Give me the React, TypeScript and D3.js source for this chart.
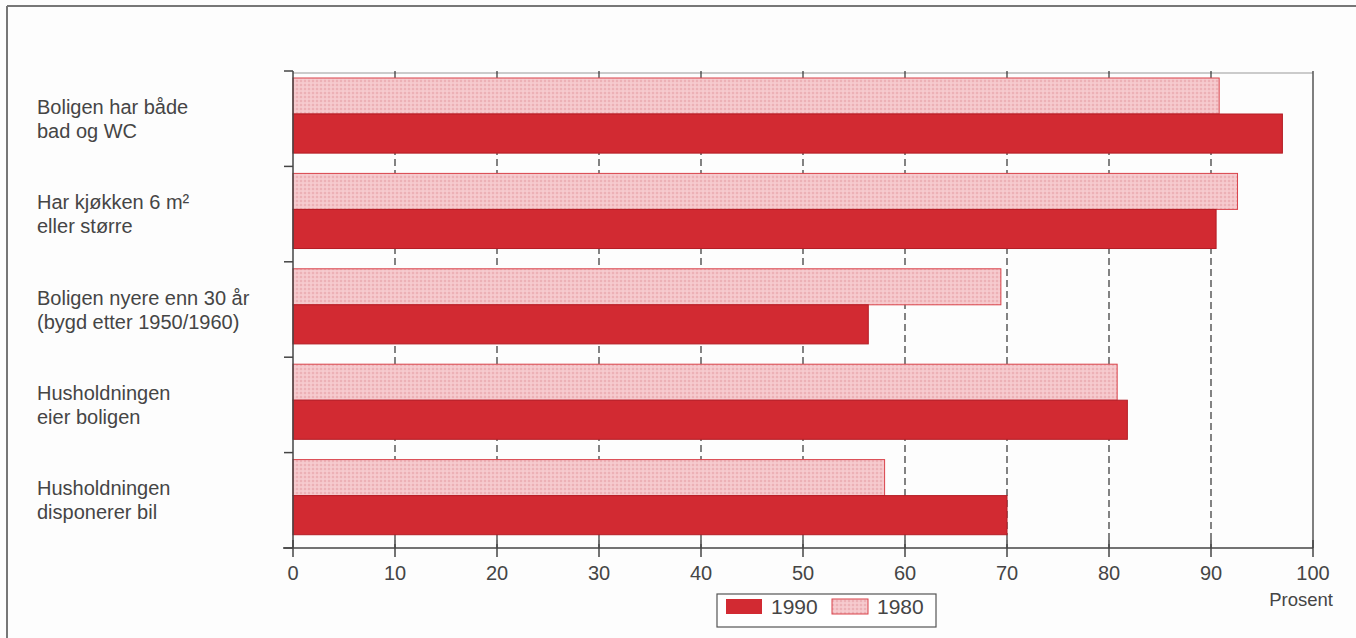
import React from "react";
import * as d3 from "d3";

const categories: string[][] = [
  ["Boligen har både", "bad og WC"],
  ["Har kjøkken 6 m²", "eller større"],
  ["Boligen nyere enn 30 år", "(bygd etter 1950/1960)"],
  ["Husholdningen", "eier boligen"],
  ["Husholdningen", "disponerer bil"],
];
const values1980: number[] = [90.8, 92.6, 69.4, 80.8, 58.0];
const values1990: number[] = [97.0, 90.5, 56.4, 81.8, 70.0];
const xTicks: number[] = [0, 10, 20, 30, 40, 50, 60, 70, 80, 90, 100];
const legendLabels: string[] = ["1990", "1980"];
const axisTitle = "Prosent";

const W = 1356;
const H = 638;
const left = 293;
const right = 1313;
const top = 71;
const bottom = 548;

const RED = "#d22a32";
const RED_STROKE = "#b41d25";
const PINK = "#f5c6ca";
const FONT = "'Liberation Sans', Arial, Helvetica, sans-serif";
const TXT = "#454545";

export default function App() {
  const x = d3.scaleLinear().domain([0, 100]).range([left, right]);
  const y = d3
    .scaleBand<number>()
    .domain(d3.range(categories.length))
    .range([top, bottom])
    .paddingInner(0)
    .paddingOuter(0);
  const bw = y.bandwidth();

  return (
    <svg
      width={W}
      height={H}
      viewBox={`0 0 ${W} ${H}`}
      style={{ position: "absolute", left: 0, top: 0, background: "#fff" }}
    >
      <defs>
        <pattern id="dots" width="4" height="4" patternUnits="userSpaceOnUse">
          <rect width="4" height="4" fill={PINK} />
          <circle cx="1" cy="1" r="0.8" fill="#e2969c" />
          <circle cx="3" cy="3" r="0.6" fill="#f9dde0" />
        </pattern>
      </defs>
      <rect width={W} height={H} fill="#fdfdfd" />
      {/* outer frame */}
      <line x1={7} y1={6} x2={W} y2={6} stroke="#777" strokeWidth={2} />
      <line x1={7} y1={6} x2={7} y2={H} stroke="#777" strokeWidth={2} />

      {/* top and right frame of plot */}
      <line x1={left} y1={top + 2} x2={right} y2={top + 2} stroke="#999" strokeWidth={1} />
      <line x1={right} y1={top} x2={right} y2={bottom} stroke="#555" strokeWidth={1.5} />

      {/* dashed grid */}
      {xTicks
        .filter((t) => t > 0 && t < 100)
        .map((t) => (
          <line
            key={`g${t}`}
            x1={x(t)}
            x2={x(t)}
            y1={top}
            y2={bottom}
            stroke="#333"
            strokeWidth={1.2}
            strokeDasharray="7 4"
          />
        ))}

      {/* bars */}
      {categories.map((_, i) => {
        const s = y(i)!;
        return (
          <g key={`b${i}`}>
            <rect
              x={x(0)}
              y={s + 7}
              width={x(values1980[i]) - x(0)}
              height={36}
              fill="url(#dots)"
              stroke="#d9434b"
              strokeWidth={1}
            />
            <rect
              x={x(0)}
              y={s + 43}
              width={x(values1990[i]) - x(0)}
              height={bw * 0.41}
              fill={RED}
              stroke={RED_STROKE}
              strokeWidth={1}
            />
          </g>
        );
      })}

      {/* left axis */}
      <line x1={left} y1={top} x2={left} y2={bottom} stroke="#444" strokeWidth={1.5} />
      {d3.range(categories.length + 1).map((i) => {
        const yy = top + i * bw;
        return <line key={`yt${i}`} x1={left - 9} x2={left} y1={yy} y2={yy} stroke="#444" strokeWidth={1.5} />;
      })}

      {/* bottom axis */}
      <line x1={left - 10} y1={bottom} x2={right} y2={bottom} stroke="#444" strokeWidth={1.5} />
      {xTicks.map((t) => (
        <g key={`xt${t}`}>
          <line x1={x(t)} x2={x(t)} y1={bottom - 8} y2={bottom + 9} stroke="#444" strokeWidth={1.5} />
          <text
            x={x(t)}
            y={bottom + 32}
            textAnchor="middle"
            fontFamily={FONT}
            fontSize={20}
            fill={TXT}
          >
            {t}
          </text>
        </g>
      ))}
      <text x={1333} y={606} textAnchor="end" fontFamily={FONT} fontSize={18.5} fill={TXT}>
        {axisTitle}
      </text>

      {/* category labels */}
      {categories.map((lines, i) => {
        const c = y(i)! + bw / 2;
        return (
          <text key={`l${i}`} fontFamily={FONT} fontSize={20} fill={TXT}>
            {lines.map((ln, k) => (
              <tspan key={k} x={37} y={c - 5 + k * 24}>
                {ln}
              </tspan>
            ))}
          </text>
        );
      })}

      {/* legend */}
      <rect x={717} y={594} width={219} height={33} fill="#fff" stroke="#555" strokeWidth={1.2} />
      <rect x={726} y={599} width={36} height={15} fill={RED} />
      <text x={771} y={614} fontFamily={FONT} fontSize={21} fill={TXT}>
        {legendLabels[0]}
      </text>
      <rect x={832} y={599} width={36} height={15} fill="url(#dots)" stroke="#d9434b" strokeWidth={1} />
      <text x={877} y={614} fontFamily={FONT} fontSize={21} fill={TXT}>
        {legendLabels[1]}
      </text>
    </svg>
  );
}
